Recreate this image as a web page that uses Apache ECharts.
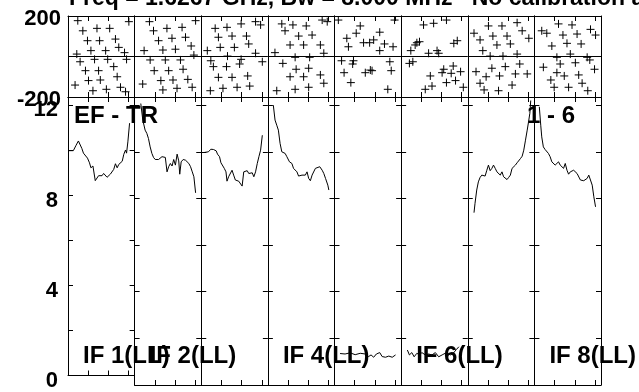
<!DOCTYPE html>
<html><head><meta charset="utf-8">
<script src="https://cdn.jsdelivr.net/npm/echarts@6/dist/echarts.min.js"></script>
<style>html,body{margin:0;padding:0;background:#fff}#c{width:639px;height:392px}</style>
</head><body><div id="c"></div>
<script>
const titleText = 'Freq = 1.6267 GHz, Bw = 8.000 MHz   No calibration applied';
const panelLabels = ['IF 1(LL)', 'IF 2(LL)', '', 'IF 4(LL)', '', 'IF 6(LL)', '', 'IF 8(LL)'];
const pairLabels = ['EF - TR', '1 - 6'];
const ampTicks = [0, 4, 8, 12];
const phaseTicks = [-200, 200];

const amp1 = [[0.7,9.97],[5.3,9.97],[8,10.21],[10.3,10.40],[12,10.36],[13.7,10.07],[15.3,9.86],[17,9.81],[19.3,9.64],[21.3,9.43],[22.7,9.21],[24.7,9.29],[27,8.64],[28.7,8.71],[30.3,8.86],[32,8.93],[33.7,8.86],[35.3,8.96],[37,8.90],[38.7,8.79],[40.3,8.86],[42,8.93],[43.7,8.96],[45.3,9.14],[47,9.39],[48.7,9.21],[50.3,9.36],[52,9.43],[53.7,9.50],[55.3,9.81],[57,10.0],[58,9.86],[59.3,10.36],[61,11.19]];
const amp2 = [[6.1,12.07],[8.1,11.36],[10.4,10.93],[12.1,10.79],[13.7,10.57],[15.4,10.21],[17.1,9.93],[18.7,9.76],[20.4,9.67],[22.1,9.61],[23.7,9.67],[25.4,9.71],[27.1,9.79],[28.7,9.71],[30.4,9.76],[32.1,9.14],[33.7,9.36],[35.4,9.50],[37.1,9.39],[38.7,9.67],[40.4,9.43],[42.1,9.90],[43.7,9.61],[44.7,9.04],[46.1,9.57],[48.1,9.67],[50.4,9.64],[52.1,9.71],[53.7,9.50],[55.4,9.36],[57.1,9.14],[58.7,8.93],[60.4,8.24]];
const amp3 = [[2.8,9.97],[7.1,10.0],[9.5,10.11],[12.1,10.10],[14.8,10.04],[16.1,9.90],[18.1,9.79],[19.5,9.53],[21.1,9.47],[22.8,9.29],[24.5,9.14],[25.5,8.74],[27.1,8.93],[28.8,9.0],[30.5,9.21],[32.1,9.0],[33.8,8.79],[35.5,8.76],[37.1,8.74],[38.8,8.67],[40.5,8.53],[42.1,9.14],[43.8,9.07],[45.5,9.19],[47.1,9.07],[48.8,9.14],[50.5,9.10],[52.1,8.93],[53.8,9.14],[55.5,9.50],[57.1,9.79],[58.8,10.07],[60.5,10.71]];
const amp4 = [[5.4,12.0],[7.1,11.36],[8.8,11.14],[10.4,10.93],[12.1,10.36],[13.8,10.0],[15.4,10.07],[17.1,9.93],[18.8,9.79],[21.4,9.57],[23.8,9.50],[25.4,9.29],[28.8,9.14],[30.4,8.96],[33.8,9.0],[37.1,9.0],[38.8,9.14],[40.4,8.86],[42.1,8.76],[43.8,9.0],[45.4,8.93],[47.1,9.29],[48.8,9.36],[51.4,9.36],[53.8,9.21],[55.4,9.07],[57.1,8.86],[59.4,8.57],[60.4,8.36]];
const amp5 = [[5.5,1.35],[10.5,1.33],[15.5,1.38],[20.5,1.30],[25.5,1.36],[30.5,1.33],[33.8,1.22],[36.2,1.29],[38.8,1.19],[41.5,1.33],[44.8,1.39],[47.2,1.22],[50.5,1.19],[53.8,1.24],[57.2,1.19],[60.5,1.29]];
const amp6 = [[6.2,1.5],[8.2,1.29],[10.6,1.39],[12.9,1.21],[15.6,1.36],[18.2,1.29],[20.6,1.39],[23.9,1.29],[27.2,1.33],[30.6,1.29],[33.9,1.39],[37.2,1.21],[40.6,1.29],[44.9,1.39],[48.9,1.29],[51.6,1.36],[54.9,1.53],[57.2,1.64]];
const amp7 = [[6.2,7.39],[7.2,7.79],[8.9,8.36],[10.5,8.71],[12.2,8.90],[13.9,9.0],[15.5,9.07],[17.2,8.96],[18.9,9.21],[20.5,9.43],[22.2,9.19],[23.9,9.29],[25.5,9.43],[27.2,9.29],[28.9,9.14],[30.5,9.10],[32.2,9.0],[33.9,9.14],[35.5,8.93],[37.2,8.96],[38.9,8.81],[40.5,8.90],[42.2,9.0],[43.9,9.29],[45.5,9.36],[47.2,9.43],[48.9,9.53],[50.5,9.57],[52.2,9.71],[53.9,9.81],[55.5,10.07],[57.2,10.5],[58.9,10.93],[60.5,11.36],[61.5,11.65],[62.4,12.2]];
const amp8 = [[4.9,11.93],[6.3,11.14],[7.3,10.64],[8.9,10.21],[10.6,10.10],[12.3,10.04],[13.9,9.93],[15.6,9.79],[17.3,9.57],[18.9,9.64],[20.6,9.43],[22.3,9.36],[23.9,9.57],[25.6,9.43],[27.3,9.50],[28.9,9.29],[30.6,9.50],[32.3,9.21],[33.9,9.04],[35.6,9.14],[37.3,9.19],[38.9,9.21],[40.6,9.14],[42.3,9.07],[43.9,9.0],[45.6,8.79],[47.3,8.71],[48.9,8.76],[50.6,8.79],[52.3,8.86],[53.9,9.0],[55.6,8.93],[57.3,8.57],[58.9,8.07],[60.6,7.64]];

const phase1 = [[9.7,177],[60.3,172],[14.7,127],[28.7,139],[41.3,139],[19.3,78],[31.3,78],[47,86],[22.7,29],[37.3,29],[50.3,45],[56,19],[8.7,12],[12,-26],[26.3,-14],[39.3,-14],[58,-14],[17.3,-70],[30.3,-70],[45.3,-50],[20.3,-119],[32,-116],[48.7,-100],[7,-141],[24.7,-169],[38,-162],[52,-152],[57,-174]];
const phase2 = [[14.7,172],[60.4,177],[18.7,127],[32,139],[47,144],[23.7,78],[37,90],[50.4,95],[9.4,29],[28,32],[40.4,36],[56,52],[15.4,-17],[30.4,-17],[45.4,-17],[58.7,7],[19.4,-70],[33.7,-70],[48,-63],[8,-136],[26,-119],[38,-116],[52.7,-113],[28,-165],[42,-157],[57,-152]];
const phase3 = [[13.8,139],[25.5,144],[39.5,161],[53.8,172],[58.8,156],[17,95],[30.5,101],[44.8,101],[6,29],[18.8,45],[32.8,45],[47,62],[53.8,16],[9.5,-21],[26,2],[39.5,-14],[60.5,-26],[12,-50],[25,-50],[38,-37],[17,-103],[30.5,-103],[46,-96],[9,-169],[21.5,-157],[35.5,-152],[48,-146]];
const phase4 = [[13.8,161],[24.8,156],[38,151],[17,127],[30.5,101],[43.8,106],[22,57],[35.4,57],[7,19],[27,-4],[41.4,-4],[14.8,-34],[28,-63],[40.4,-58],[22,-100],[35.4,-100],[8.8,-169],[27,-162],[40.4,-152],[53.8,180],[58.8,172],[52,57],[55.4,16],[52,-91],[55.4,-132]];
const phase5 = [[3.8,180],[25.5,151],[21.5,115],[12.2,90],[28.8,68],[34.8,68],[44.8,120],[38.8,82],[49.5,62],[59.5,180],[13.8,48],[44.8,29],[58,48],[7,-21],[18.8,-21],[18,-37],[35.5,-67],[30.5,-80],[9.5,-80],[54.8,-26],[56.2,-70],[16.2,-129],[52.8,-162],[37.2,-70]];
const phase6 = [[22.2,156],[32.2,164],[44.9,180],[15.6,68],[18.2,73],[13.9,57],[55.6,78],[52.2,65],[9.6,29],[27.2,16],[35.6,29],[37.2,16],[8.2,-34],[11.6,-26],[42.2,-63],[51.6,-47],[28.9,-96],[40.6,-80],[49.6,-83],[58.9,-75],[44.9,-129],[53.9,-119],[61.6,-152],[23.9,-162],[30.6,-146]];
const phase7 = [[6.2,115],[20.5,151],[33.9,151],[48.9,167],[53.9,127],[60.5,90],[12.2,82],[24.9,101],[38.9,101],[28.9,57],[42.2,62],[14.9,29],[22.2,2],[34.9,2],[48.9,12],[8.2,-75],[23.9,-58],[37.2,-50],[51.5,-37],[58.9,-86],[18.2,-100],[31.5,-96],[47.2,-86],[12.2,-132],[16.2,-165],[30.5,-169],[43.9,-141]];
const phase8 = [[7.3,127],[12.3,115],[23.9,161],[37.3,156],[55.6,134],[60.6,106],[28.3,106],[42.3,111],[17.3,52],[32.3,65],[46.3,62],[22.3,-4],[35.6,12],[52.3,-4],[8.9,-53],[25.6,-37],[40.6,-31],[54.9,-17],[59.6,-63],[16.3,-116],[29.6,-96],[43.9,-91],[19.6,-152],[33.9,-152],[47.3,-132],[52.9,-169],[22.3,-80]];

const amps = [amp1, amp2, amp3, amp4, amp5, amp6, amp7, amp8];
const phases = [phase1, phase2, phase3, phase4, phase5, phase6, phase7, phase8];

const L = 68, R = 601, W = (R - L) / 8;
const TOP = 16, MID = 97, BOT = 385;
const FONT = '"Liberation Sans", Arial, Helvetica, sans-serif';
const plus = 'path://M5,0L5,10M0,5L10,5';

const grids = [], xAxes = [], yAxes = [], series = [], graphics = [];
for (let g = 0; g < 2; g++) {
  for (let i = 0; i < 8; i++) {
    const isMain = g === 1;
    grids.push({ left: L + i * W, width: W, top: isMain ? MID : TOP, height: isMain ? BOT - MID : MID - TOP });
    const gi = grids.length - 1;
    const xBase = {
      type: 'value', gridIndex: gi, min: 0, max: 66, interval: 20,
      axisLine: { show: true, onZero: false, lineStyle: { color: '#000', width: 1 } },
      axisTick: { show: true, inside: true, length: 5, lineStyle: { color: '#000' } },
      axisLabel: { show: false }, splitLine: { show: false }
    };
    xAxes.push(Object.assign({}, xBase, { position: 'bottom' }), Object.assign({}, xBase, { position: 'top' }));
    const yBase = {
      type: 'value', gridIndex: gi,
      min: isMain ? 0 : -200, max: isMain ? 12.35 : 200, interval: isMain ? 2 : 200,
      axisLine: { show: true, onZero: false, lineStyle: { color: '#000', width: 1 } },
      axisTick: { show: isMain, inside: true, length: 5, lineStyle: { color: '#000' } },
      splitLine: { show: false }, axisLabel: { show: false }
    };
    const yLeft = Object.assign({}, yBase, { position: 'left' });
    if (!isMain) yLeft.splitLine = { show: true, lineStyle: { color: '#000', width: 1 } };
    if (i === 0) {
      yLeft.axisLabel = {
        show: true, margin: isMain ? 10 : 7, fontSize: 22, fontWeight: 'bold', color: '#000', fontFamily: FONT,
        verticalAlign: 'top', lineHeight: isMain ? 11 : 5,
        showMaxLabel: isMain ? false : true,
        formatter: isMain ? (v => ampTicks.includes(v) ? String(v) : '') : (v => phaseTicks.includes(v) ? String(v) : '')
      };
    }
    yAxes.push(yLeft, Object.assign({}, yBase, { position: 'right' }));
    if (isMain) {
      series.push({
        type: 'line', xAxisIndex: 2 * gi, yAxisIndex: 2 * gi, data: amps[i],
        symbol: 'none', showSymbol: false, lineStyle: { color: '#000', width: 1 }, silent: true, animation: false
      });
    } else {
      series.push({
        type: 'scatter', xAxisIndex: 2 * gi, yAxisIndex: 2 * gi, data: phases[i],
        symbol: plus, symbolSize: 8,
        itemStyle: { color: 'rgba(0,0,0,0)', borderColor: '#000', borderWidth: 1, opacity: 1 },
        silent: true, animation: false
      });
    }
  }
}

panelLabels.forEach((t, i) => {
  if (!t) return;
  graphics.push({ type: 'text', x: L + i * W + 15, y: 356, z: 100,
    style: { text: t, font: 'bold 24px ' + FONT, fill: '#000', align: 'left', verticalAlign: 'middle' } });
});
graphics.push({ type: 'text', x: 74, y: 116, z: 100,
  style: { text: pairLabels[0], font: 'bold 24px ' + FONT, fill: '#000', align: 'left', verticalAlign: 'middle' } });
graphics.push({ type: 'text', x: 527, y: 116, z: 100,
  style: { text: pairLabels[1], font: 'bold 24px ' + FONT, fill: '#000', align: 'left', verticalAlign: 'middle' } });
graphics.push({ type: 'text', x: 69, y: -1, z: 100,
  style: { text: titleText, font: 'bold 23px ' + FONT, fill: '#000', align: 'left', verticalAlign: 'middle' } });

const chart = echarts.init(document.getElementById('c'), null, { renderer: 'canvas' });
chart.setOption({
  backgroundColor: '#fff',
  animation: false,
  grid: grids, xAxis: xAxes, yAxis: yAxes, series: series, graphic: graphics
});
</script></body></html>
